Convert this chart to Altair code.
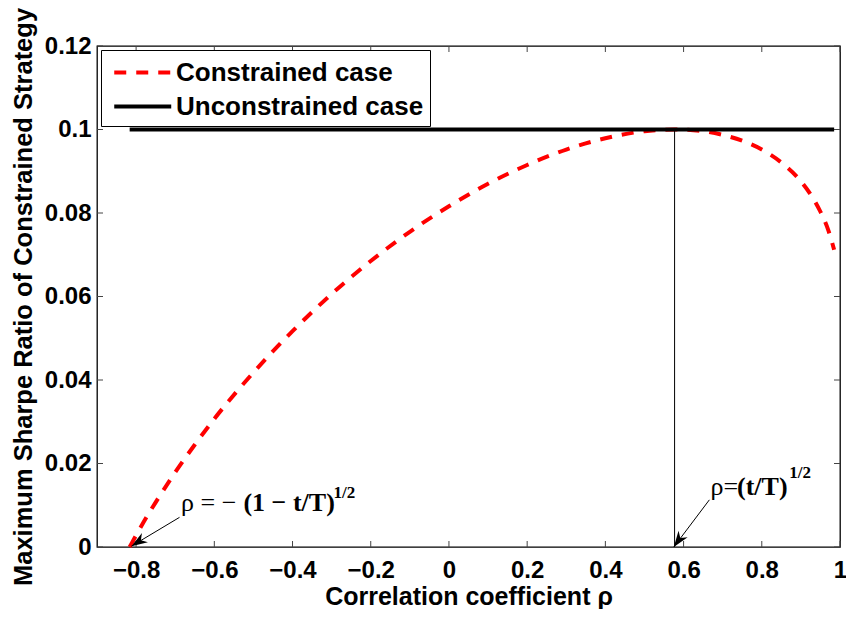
import altair as alt
import pandas as pd

# ---- data ----
RHO = [-0.8165, -0.81, -0.80, -0.78, -0.75, -0.70, -0.65, -0.60, -0.50, -0.40, -0.30,
       -0.20, -0.10, 0.0, 0.10, 0.20, 0.30, 0.40, 0.50, 0.577, 0.65, 0.70, 0.75, 0.80,
       0.85, 0.90, 0.93, 0.95, 0.97, 0.985]
SR_CONSTRAINED = [0.0, 0.0011, 0.0028, 0.0061, 0.0107, 0.0179, 0.0245, 0.0307, 0.0418, 0.0517,
                  0.0606, 0.0685, 0.0755, 0.0816, 0.0870, 0.0915, 0.0952, 0.0979, 0.0996, 0.1000,
                  0.0996, 0.0987, 0.0973, 0.0952, 0.0921, 0.0876, 0.0837, 0.0803, 0.0759, 0.0712]
UNC_RHO = [-0.8165, 0.985]
UNC_SR = [0.1, 0.1]
SERIES = ["Constrained case", "Unconstrained case"]
X_TICKS = [-0.8, -0.6, -0.4, -0.2, 0, 0.2, 0.4, 0.6, 0.8, 1]
Y_TICKS = [0, 0.02, 0.04, 0.06, 0.08, 0.1, 0.12]
X_DOMAIN = [-0.9, 1]
Y_DOMAIN = [0, 0.12]
VLINE_RHO = 0.577  # rho = (t/T)^(1/2)

# annotations (text, arrows)
ANN_NORMAL = pd.DataFrame({"x": [-0.685, 0.669], "y": [0.0087, 0.0125], "t": ["ρ = −", "ρ="]})
ANN_BOLD = pd.DataFrame({"x": [-0.5255, 0.7366], "y": [0.0087, 0.0125], "t": ["(1 − t/T)", "(t/T)"]})
ANN_SUP = pd.DataFrame({"x": [-0.295, 0.870], "y": [0.0117, 0.0166], "t": ["1/2", "1/2"]})
ARROWS = pd.DataFrame({"x": [-0.689, 0.666], "y": [0.0071, 0.0113],
                       "x2": [-0.812, 0.575], "y2": [0.0002, 0.0]})

W, H = 743, 501
FONT = "Liberation Sans"
xs = alt.Scale(domain=X_DOMAIN, nice=False, zero=False)
ys = alt.Scale(domain=Y_DOMAIN, nice=False, zero=False)

df_c = pd.DataFrame({"rho": RHO, "sr": SR_CONSTRAINED, "series": SERIES[0]})
df_u = pd.DataFrame({"rho": UNC_RHO, "sr": UNC_SR, "series": SERIES[1]})

legend = alt.Legend(title=None, orient="top-left", offset=4, padding=6,
                    strokeColor="black", fillColor="white", cornerRadius=0,
                    labelFont=FONT, labelFontSize=26, labelFontWeight="bold", labelColor="black",
                    symbolType="M-0.65,0H3.35", symbolSize=812, symbolStrokeWidth=4,
                    labelOffset=36, rowPadding=4, labelLimit=400)
color = alt.Color("series:N", scale=alt.Scale(domain=SERIES, range=["#ff0000", "#000000"]), legend=legend)
dash = alt.StrokeDash("series:N", scale=alt.Scale(domain=SERIES, range=[[12, 10], [1, 0]]), legend=legend)

LABEL_EXPR = "format(datum.value, '~g')"
xaxis = alt.Axis(values=X_TICKS, labelExpr=LABEL_EXPR, title="Correlation coefficient  ρ",
                 labelFont=FONT, labelFontSize=24, labelFontWeight="bold", labelColor="black",
                 titleFont=FONT, titleFontSize=25, titleFontWeight="bold", titleColor="black",
                 ticks=False, domain=False, grid=False, labelPadding=11, titlePadding=2,
                 labelFlush=False, labelOverlap=False, labelBound=False)
yaxis = alt.Axis(values=Y_TICKS, labelExpr=LABEL_EXPR, title="Maximum Sharpe Ratio of Constrained Strategy",
                 labelFont=FONT, labelFontSize=24, labelFontWeight="bold", labelColor="black",
                 titleFont=FONT, titleFontSize=25.5, titleFontWeight="bold", titleColor="black",
                 ticks=False, domain=False, grid=False, labelPadding=6, titlePadding=8,
                 labelFlush=False, labelOverlap=False, labelBound=False)


def X(field):
    return alt.X(field, type="quantitative", scale=xs, axis=xaxis)


def Y(field):
    return alt.Y(field, type="quantitative", scale=ys, axis=yaxis)


red = alt.Chart(df_c).mark_line(strokeWidth=4, interpolate="monotone", strokeCap="butt").encode(
    x=X("rho"), y=Y("sr"), color=color, strokeDash=dash)
black = alt.Chart(df_u).mark_line(strokeWidth=4).encode(
    x=X("rho"), y=Y("sr"), color=color, strokeDash=dash)

xt = pd.DataFrame({"rho": X_TICKS})
yt = pd.DataFrame({"sr": Y_TICKS})
tick_style = dict(color="#444444", strokeWidth=1)
top_ticks = alt.Chart(xt).mark_rule(**tick_style).encode(x=X("rho"), y=alt.value(0), y2=alt.value(6))
bot_ticks = alt.Chart(xt).mark_rule(**tick_style).encode(x=X("rho"), y=alt.value(H), y2=alt.value(H - 6))
left_ticks = alt.Chart(yt).mark_rule(**tick_style).encode(y=Y("sr"), x=alt.value(0), x2=alt.value(6))
right_ticks = alt.Chart(yt).mark_rule(**tick_style).encode(y=Y("sr"), x=alt.value(W), x2=alt.value(W - 6))

vline = alt.Chart(pd.DataFrame({"rho": [VLINE_RHO], "sr": [0.0], "sr2": [UNC_SR[0]]})).mark_rule(
    color="black", strokeWidth=1).encode(x=X("rho"), y=Y("sr"), y2="sr2:Q")

arrows = ARROWS.rename(columns={"x": "rho", "y": "sr", "x2": "rho2", "y2": "sr2"})
arrow_lines = alt.Chart(arrows).mark_rule(color="black", strokeWidth=1).encode(
    x=X("rho"), y=Y("sr"), x2="rho2:Q", y2="sr2:Q")
head_shape = "M0,0 L-2,-0.7 L-1.4,0 L-2,0.7 Z"
heads = []
for i, ang in [(0, 147.7), (1, 125.5)]:
    h = arrows.iloc[[i]][["rho2", "sr2"]].rename(columns={"rho2": "rho", "sr2": "sr"})
    heads.append(alt.Chart(h).mark_point(shape=head_shape, filled=True, color="black",
                                         opacity=1, size=256, angle=ang).encode(x=X("rho"), y=Y("sr")))


def texts(df, size, weight):
    d = df.rename(columns={"x": "rho", "y": "sr"})
    return alt.Chart(d).mark_text(align="left", baseline="alphabetic", font="Liberation Serif",
                                  fontSize=size, fontWeight=weight, color="black").encode(
        x=X("rho"), y=Y("sr"), text="t:N")


txt_n = texts(ANN_NORMAL, 26, "normal")
txt_b = texts(ANN_BOLD, 26, "bold")
txt_s = texts(ANN_SUP, 17, "bold")

chart = alt.layer(
    top_ticks, bot_ticks, left_ticks, right_ticks,
    red, black, vline, arrow_lines, heads[0], heads[1], txt_n, txt_b, txt_s
).properties(
    width=W, height=H,
    padding={"left": 89, "top": 38, "right": 6, "bottom": 62},
    autosize=alt.AutoSizeParams(type="none"),
    background="white",
).configure_view(stroke="black", strokeWidth=1.3)

chart.save("out.html", embed_options={"renderer": "svg", "actions": False})
